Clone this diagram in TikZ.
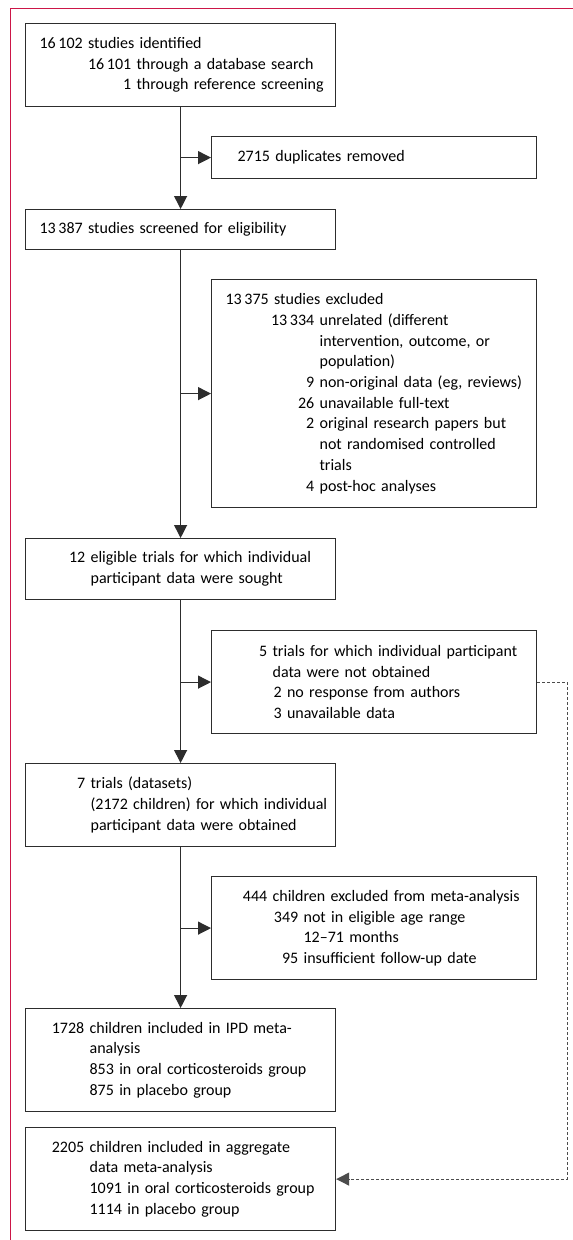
\documentclass[tikz,border=0pt]{standalone}
\usepackage{fontspec}
\setmainfont{Carlito}
\usetikzlibrary{arrows.meta}
\definecolor{framered}{RGB}{204,22,72}
\definecolor{boxgray}{RGB}{45,45,45}
% text column at #1 from the box edge, number #2 hanging to its left
\newcommand{\hnum}[3]{\hspace*{#1pt}\llap{#2\ }#3}

\begin{document}
\begin{tikzpicture}[x=1pt, y=-1pt,
  box/.style={draw=boxgray, line width=1.2pt, anchor=north west, inner xsep=0pt, inner ysep=0pt,
    align=left, font=\fontsize{16}{20.7}\selectfont, text=black},
  mainbox/.style={box, minimum width=310pt, text width=310pt},
  sidebox/.style={box, minimum width=325pt, text width=325pt},
  arr/.style={draw=boxgray, line width=1.2pt, -{Triangle[length=13pt,width=13pt]}},
  dasharr/.style={arr, draw=gray!60!black, dash pattern=on 3pt off 2pt}]
  \useasboundingbox (0,0) rectangle (573,1240);
  % frame
  \draw[framered, line width=1pt] (573,8) -- (10,8) -- (10,1240);
  % main column
  \node[mainbox, minimum height=83pt] (ident) at (25,23) {\hspace*{14pt}16\,102 studies identified\\
    \hnum{111}{16\,101}{through a database search}\\
    \hnum{111}{1}{through reference screening}};
  \node[mainbox, minimum height=40pt] (screen) at (25,209) {\hspace*{14pt}13\,387 studies screened for eligibility};
  \node[mainbox, minimum height=61pt] (sought) at (25,538) {\hnum{65}{12}{eligible trials for which individual}\\
    \hnum{65}{}{participant data were sought}};
  \node[mainbox, minimum height=83pt] (obt) at (25,763) {\hnum{65}{7}{trials (datasets)}\\
    \hnum{65}{}{(2172 children) for which individual}\\
    \hnum{65}{}{participant data were obtained}};
  \node[mainbox, minimum height=103pt] (ipd) at (25,1008) {\hnum{64}{1728}{children included in IPD meta-}\\
    \hnum{64}{}{analysis}\\
    \hnum{64}{}{853 in oral corticosteroids group}\\
    \hnum{64}{}{875 in placebo group}};
  \node[mainbox, minimum height=103pt] (aggr) at (25,1127) {\hnum{64}{2205}{children included in aggregate}\\
    \hnum{64}{}{data meta-analysis}\\
    \hnum{64}{}{1091 in oral corticosteroids group}\\
    \hnum{64}{}{1114 in placebo group}};
  % side boxes
  \node[sidebox, minimum height=42pt] (dup) at (211,136) {\hspace*{26pt}2715 duplicates removed};
  \node[sidebox, minimum height=228pt] (excl) at (211,279) {\hspace*{14pt}13\,375 studies excluded\\
    \hnum{108}{13\,334}{unrelated (different}\\
    \hnum{108}{}{intervention, outcome, or}\\
    \hnum{108}{}{population)}\\
    \hnum{108}{9}{non-original data (eg, reviews)}\\
    \hnum{108}{26}{unavailable full-text}\\
    \hnum{108}{2}{original research papers but}\\
    \hnum{108}{}{not randomised controlled}\\
    \hnum{108}{}{trials}\\
    \hnum{108}{4}{post-hoc analyses}};
  \node[sidebox, minimum height=103pt] (notobt) at (211,630) {\hnum{61}{5}{trials for which individual participant}\\
    \hnum{61}{}{data were not obtained}\\
    \hnum{62}{}{2 no response from authors}\\
    \hnum{62}{}{3 unavailable data}};
  \node[sidebox, minimum height=103pt] (chexcl) at (211,876) {\hnum{61}{444}{children excluded from meta-analysis}\\
    \hnum{92}{349}{not in eligible age range}\\
    \hnum{92}{}{12–71 months}\\
    \hnum{92}{95}{insufficient follow-up date}};
  % connectors
  \draw[arr] (ident.south) -- (screen.north);
  \draw[arr] (screen.south) -- (sought.north);
  \draw[arr] (sought.south) -- (obt.north);
  \draw[arr] (obt.south) -- (ipd.north);
  \draw[arr] (ident.south |- dup.west) -- (dup.west);
  \draw[arr] (screen.south |- excl.west) -- (excl.west);
  \draw[arr] (sought.south |- notobt.west) -- (notobt.west);
  \draw[arr] (obt.south |- chexcl.west) -- (chexcl.west);
  \draw[dasharr] (notobt.east) -- ++(30,0) |- (aggr.east);
\end{tikzpicture}
\end{document}
